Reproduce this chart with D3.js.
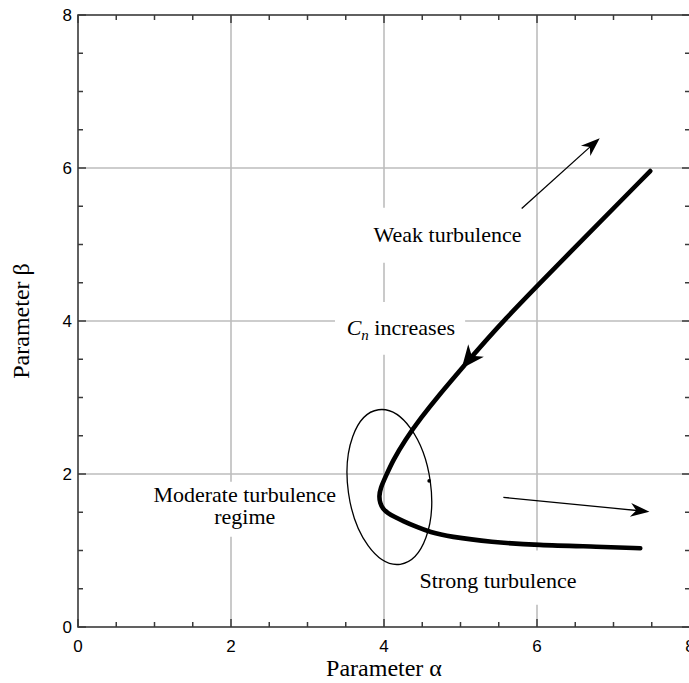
<!DOCTYPE html>
<html>
<head>
<meta charset="utf-8">
<script src="https://cdn.jsdelivr.net/npm/d3@7"></script>
<style>
  html, body { margin: 0; padding: 0; background: #fff; }
  svg { display: block; }
</style>
</head>
<body>
<div id="chart"></div>
<script>
// tick values
const majorTicks = [0, 2, 4, 6, 8];
const minorTicks = [0.5, 1, 1.5, 2.5, 3, 3.5, 4.5, 5, 5.5, 6.5, 7, 7.5];
const gridValues = [2, 4, 6];

// gaps in the grid lines around the labels (data units)
const vGridGaps = [
    { alpha: 2, from: 1.18, to: 1.9 },
    { alpha: 4, from: 3.56, to: 4.25 },
    { alpha: 4, from: 4.76, to: 5.48 },
    { alpha: 6, from: 0.29, to: 1.0 }
];
const hGridGaps = [
    { beta: 4, from: 3.36, to: 5.06 }
];

// operating curve (alpha, beta)
const curveAlpha = [7.48, 6.5, 5.52, 5.02, 4.73, 4.48, 4.275, 4.12, 4.013, 3.955, 3.935, 3.948, 3.985, 4.05, 4.14, 4.25, 4.42, 4.6, 4.86, 5.4, 6.0, 6.82, 7.35];
const curveBeta  = [5.96, 4.965, 3.97, 3.385, 3.046, 2.732, 2.444, 2.183, 1.948, 1.817, 1.712, 1.62, 1.545, 1.488, 1.438, 1.385, 1.31, 1.24, 1.18, 1.11, 1.07, 1.05, 1.03];

// arrowhead on the curve: [tip, tail direction point]
const curveArrowAlpha = [5.015, 5.5];
const curveArrowBeta  = [3.38, 3.985];

// thin arrows: [start, tip]
const arrowAlpha = [[5.8, 6.82], [5.56, 7.47]];
const arrowBeta  = [[5.47, 6.39], [1.695, 1.507]];

// moderate-regime ellipse
const ellipseCenter = [4.07, 1.83];
const ellipseRadii = [0.54, 1.02];
const ellipseTilt = -8;
const markerPoint = [4.59, 1.91];

// text labels
const labelText = ['Weak turbulence', 'Moderate turbulence', 'regime', 'Strong turbulence'];
const labelAlpha = [4.83, 2.18, 2.18, 5.49];
const labelBeta  = [5.03, 1.63, 1.345, 0.51];
const cnPos = [4.22, 3.82];

const width = 689, height = 683;
const x = d3.scaleLinear().domain([0, 8]).range([78, 690]);
const y = d3.scaleLinear().domain([0, 8]).range([627, 15]);

const svg = d3.select('#chart')
    .append('svg')
    .attr('width', width)
    .attr('height', height);

const serif = '"Liberation Serif", "Times New Roman", serif';
const sans = '"Liberation Sans", Arial, sans-serif';
const axisColor = '#3a3a3a';
const gridColor = '#bdbdbd';

// grid lines, broken around text
function segments(value, gaps) {
    let segs = [], start = 0;
    gaps.filter(g => g.v === value).sort((a, b) => a.from - b.from).forEach(g => {
        segs.push([start, g.from]);
        start = g.to;
    });
    segs.push([start, 8]);
    return segs;
}
gridValues.forEach(v => {
    segments(v, vGridGaps.map(g => ({ v: g.alpha, from: g.from, to: g.to }))).forEach(s => {
        svg.append('line')
            .attr('x1', x(v)).attr('x2', x(v))
            .attr('y1', y(s[0])).attr('y2', y(s[1]))
            .attr('stroke', gridColor).attr('stroke-width', 1.6);
    });
    segments(v, hGridGaps.map(g => ({ v: g.beta, from: g.from, to: g.to }))).forEach(s => {
        svg.append('line')
            .attr('y1', y(v)).attr('y2', y(v))
            .attr('x1', x(s[0])).attr('x2', x(s[1]))
            .attr('stroke', gridColor).attr('stroke-width', 1.6);
    });
});

// frame
svg.append('rect')
    .attr('x', x(0)).attr('y', y(8))
    .attr('width', x(8) - x(0)).attr('height', y(0) - y(8))
    .attr('fill', 'none').attr('stroke', axisColor).attr('stroke-width', 1.6);

// ticks on all four sides, pointing inward
const ticks = majorTicks.map(v => ({ v, len: 8 })).concat(minorTicks.map(v => ({ v, len: 5 })));
const tg = svg.append('g').attr('stroke', axisColor).attr('stroke-width', 1.5);
ticks.forEach(t => {
    tg.append('line').attr('x1', x(t.v)).attr('x2', x(t.v)).attr('y1', y(0)).attr('y2', y(0) - t.len);
    tg.append('line').attr('x1', x(t.v)).attr('x2', x(t.v)).attr('y1', y(8)).attr('y2', y(8) + t.len);
    tg.append('line').attr('y1', y(t.v)).attr('y2', y(t.v)).attr('x1', x(0)).attr('x2', x(0) + t.len);
    tg.append('line').attr('y1', y(t.v)).attr('y2', y(t.v)).attr('x1', x(8)).attr('x2', x(8) - t.len);
});

// tick labels
svg.selectAll('.xlab').data(majorTicks).enter().append('text')
    .attr('x', d => x(d)).attr('y', 652)
    .attr('text-anchor', 'middle')
    .style('font-family', sans).style('font-size', '17px')
    .text(d => d);
svg.selectAll('.ylab').data(majorTicks).enter().append('text')
    .attr('x', 72).attr('y', d => y(d) + 6)
    .attr('text-anchor', 'end')
    .style('font-family', sans).style('font-size', '17px')
    .text(d => d);

// axis titles
svg.append('text')
    .attr('x', x(4)).attr('y', 676)
    .attr('text-anchor', 'middle')
    .style('font-family', serif).style('font-size', '24px')
    .text('Parameter \u03b1');
svg.append('text')
    .attr('transform', `translate(29,${y(4)}) rotate(-90)`)
    .attr('text-anchor', 'middle')
    .style('font-family', serif).style('font-size', '24px')
    .text('Parameter \u03b2');

// ellipse
svg.append('ellipse')
    .attr('cx', x(ellipseCenter[0])).attr('cy', y(ellipseCenter[1]))
    .attr('rx', x(ellipseRadii[0]) - x(0)).attr('ry', y(0) - y(ellipseRadii[1]))
    .attr('transform', `rotate(${ellipseTilt},${x(ellipseCenter[0])},${y(ellipseCenter[1])})`)
    .attr('fill', 'none').attr('stroke', '#000').attr('stroke-width', 1.3);
svg.append('circle')
    .attr('cx', x(markerPoint[0])).attr('cy', y(markerPoint[1]))
    .attr('r', 1.8).attr('fill', '#000');

// main curve
const pts = curveAlpha.map((a, i) => [x(a), y(curveBeta[i])]);
svg.append('path')
    .attr('d', d3.line().curve(d3.curveBasis)(pts))
    .attr('fill', 'none').attr('stroke', '#000')
    .attr('stroke-width', 4.6).attr('stroke-linecap', 'round')
    .attr('stroke-linejoin', 'round');

// arrowhead helper (stealth shape)
function arrowHead(tip, from, len, half) {
    const dx = tip[0] - from[0], dy = tip[1] - from[1];
    const d = Math.hypot(dx, dy), ux = dx / d, uy = dy / d;
    const bx = tip[0] - ux * len, by = tip[1] - uy * len;
    const nx = -uy, ny = ux;
    const notch = [tip[0] - ux * len * 0.7, tip[1] - uy * len * 0.7];
    svg.append('path')
        .attr('d', `M${tip[0]},${tip[1]} L${bx + nx * half},${by + ny * half} L${notch[0]},${notch[1]} L${bx - nx * half},${by - ny * half} Z`)
        .attr('fill', '#000');
}

// arrow on the curve
arrowHead([x(curveArrowAlpha[0]), y(curveArrowBeta[0])],
          [x(curveArrowAlpha[1]), y(curveArrowBeta[1])], 23, 10);

// thin arrows
arrowAlpha.forEach((a, i) => {
    const s = [x(a[0]), y(arrowBeta[i][0])], t = [x(a[1]), y(arrowBeta[i][1])];
    const d = Math.hypot(t[0] - s[0], t[1] - s[1]);
    const e = [t[0] - (t[0] - s[0]) / d * 10, t[1] - (t[1] - s[1]) / d * 10];
    svg.append('line')
        .attr('x1', s[0]).attr('y1', s[1]).attr('x2', e[0]).attr('y2', e[1])
        .attr('stroke', '#000').attr('stroke-width', 1.3);
    arrowHead(t, s, 19, 7);
});

// annotations
labelText.forEach((t, i) => {
    svg.append('text')
        .attr('x', x(labelAlpha[i])).attr('y', y(labelBeta[i]))
        .attr('text-anchor', 'middle')
        .style('font-family', serif).style('font-size', '22px')
        .text(t);
});
const cn = svg.append('text')
    .attr('x', x(cnPos[0])).attr('y', y(cnPos[1]))
    .attr('text-anchor', 'middle')
    .style('font-family', serif).style('font-size', '22px');
cn.append('tspan').style('font-style', 'italic').text('C');
cn.append('tspan').style('font-style', 'italic').style('font-size', '15px').attr('dy', 5).text('n');
cn.append('tspan').attr('dy', -5).text(' increases');
</script>
</body>
</html>
